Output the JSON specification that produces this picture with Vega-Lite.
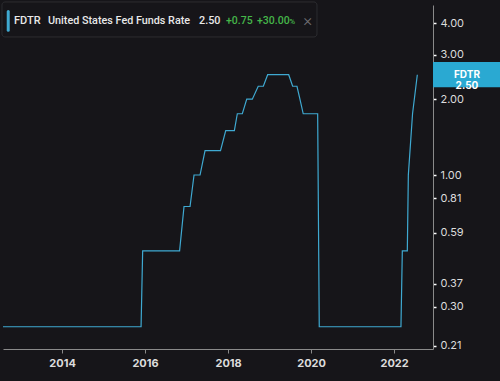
{
  "$schema": "https://vega.github.io/schema/vega-lite/v6.json",
  "width": 430,
  "height": 344,
  "autosize": {"type": "none"},
  "padding": {"left": 3, "top": 5, "right": 67, "bottom": 32},
  "background": "#161519",
  "config": {
    "view": {"stroke": null},
    "font": "Inter",
    "axis": {"grid": false}
  },
  "datasets": {
    "one": [{}],
    "fdtr": [
      {"date": "2012-07-30", "rate": 0.25},
      {"date": "2015-11-27", "rate": 0.25},
      {"date": "2015-12-11", "rate": 0.50},
      {"date": "2016-10-31", "rate": 0.50},
      {"date": "2016-12-09", "rate": 0.75},
      {"date": "2017-01-31", "rate": 0.75},
      {"date": "2017-03-07", "rate": 1.00},
      {"date": "2017-04-29", "rate": 1.00},
      {"date": "2017-06-12", "rate": 1.25},
      {"date": "2017-10-26", "rate": 1.25},
      {"date": "2017-12-11", "rate": 1.50},
      {"date": "2018-02-25", "rate": 1.50},
      {"date": "2018-03-23", "rate": 1.75},
      {"date": "2018-05-06", "rate": 1.75},
      {"date": "2018-06-14", "rate": 2.00},
      {"date": "2018-08-02", "rate": 2.00},
      {"date": "2018-09-23", "rate": 2.25},
      {"date": "2018-11-07", "rate": 2.25},
      {"date": "2018-12-15", "rate": 2.50},
      {"date": "2019-06-18", "rate": 2.50},
      {"date": "2019-07-23", "rate": 2.25},
      {"date": "2019-08-30", "rate": 2.25},
      {"date": "2019-09-25", "rate": 2.00},
      {"date": "2019-10-24", "rate": 1.75},
      {"date": "2020-02-28", "rate": 1.75},
      {"date": "2020-03-13", "rate": 0.25},
      {"date": "2022-03-02", "rate": 0.25},
      {"date": "2022-03-14", "rate": 0.50},
      {"date": "2022-04-27", "rate": 0.50},
      {"date": "2022-05-06", "rate": 1.00},
      {"date": "2022-06-12", "rate": 1.75},
      {"date": "2022-07-24", "rate": 2.50}
    ]
  },
  "layer": [
    {
      "data": {"name": "fdtr"},
      "mark": {"type": "line", "color": "#3fa9d1", "strokeWidth": 1.2, "interpolate": "linear"},
      "encoding": {
        "x": {
          "field": "date", "type": "temporal",
          "scale": {"domain": [{"year": 2012, "month": 7, "date": 30}, {"year": 2022, "month": 12, "date": 9}]},
          "axis": {
            "title": null, "orient": "bottom",
            "values": [{"year": 2014}, {"year": 2016}, {"year": 2018}, {"year": 2020}, {"year": 2022}],
            "format": "%Y",
            "domainColor": "#8a8a8a", "tickColor": "#8a8a8a", "tickSize": 4,
            "labelColor": "#dcdcdc", "labelFontSize": 11, "labelFontWeight": "bold", "labelPadding": 4
          }
        },
        "y": {
          "field": "rate", "type": "quantitative",
          "scale": {"type": "log", "domain": [0.204, 4.727], "nice": false},
          "axis": {
            "title": null, "orient": "right",
            "values": [0.21, 0.30, 0.37, 0.59, 0.81, 1.00, 2.00, 3.00, 4.00],
            "format": ".2f",
            "domainColor": "#8a8a8a", "tickColor": "#ffffff", "tickSize": 3, "tickWidth": 1.5,
            "labelColor": "#dcdcdc", "labelFontSize": 11, "labelPadding": 4
          }
        }
      }
    },
    {
      "data": {"name": "one"},
      "mark": {"type": "rect", "fill": "#161519", "stroke": "#2c2c30", "strokeWidth": 1, "cornerRadius": 3},
      "encoding": {
        "x": {"datum": {"year": 2012, "month": 7, "date": 21}, "type": "temporal"},
        "x2": {"datum": {"year": 2020, "month": 2, "date": 22}},
        "y": {"datum": 4.86, "type": "quantitative"},
        "y2": {"datum": 3.53}
      }
    },
    {
      "data": {"name": "one"},
      "mark": {"type": "rule", "color": "#3fa9d1", "strokeWidth": 3, "strokeCap": "round"},
      "encoding": {
        "x": {"datum": {"year": 2012, "month": 9, "date": 14}, "type": "temporal"},
        "y": {"datum": 4.45, "type": "quantitative"},
        "y2": {"datum": 3.75}
      }
    },
    {
      "data": {"name": "one"},
      "mark": {"type": "text", "text": "FDTR", "align": "left", "baseline": "middle", "font": "Roboto", "fontSize": 11, "fontWeight": 500, "color": "#e8e8e8"},
      "encoding": {
        "x": {"datum": {"year": 2012, "month": 11, "date": 4}, "type": "temporal"},
        "y": {"datum": 4.08, "type": "quantitative"}
      }
    },
    {
      "data": {"name": "one"},
      "mark": {"type": "text", "text": "United States Fed Funds Rate", "align": "left", "baseline": "middle", "font": "Roboto", "fontSize": 10.8, "fontWeight": 500, "color": "#e8e8e8"},
      "encoding": {
        "x": {"datum": {"year": 2013, "month": 8, "date": 30}, "type": "temporal"},
        "y": {"datum": 4.08, "type": "quantitative"}
      }
    },
    {
      "data": {"name": "one"},
      "mark": {"type": "text", "text": "2.50", "align": "left", "baseline": "middle", "font": "Roboto", "fontSize": 10.8, "fontWeight": 500, "color": "#e8e8e8"},
      "encoding": {
        "x": {"datum": {"year": 2017, "month": 4, "date": 20}, "type": "temporal"},
        "y": {"datum": 4.08, "type": "quantitative"}
      }
    },
    {
      "data": {"name": "one"},
      "mark": {"type": "text", "text": "+0.75", "align": "left", "baseline": "middle", "font": "Roboto", "fontSize": 10.5, "fontWeight": 500, "color": "#45b649"},
      "encoding": {
        "x": {"datum": {"year": 2017, "month": 12, "date": 13}, "type": "temporal"},
        "y": {"datum": 4.08, "type": "quantitative"}
      }
    },
    {
      "data": {"name": "one"},
      "mark": {"type": "text", "text": "+30.00", "align": "left", "baseline": "middle", "font": "Roboto", "fontSize": 10.5, "fontWeight": 500, "color": "#45b649"},
      "encoding": {
        "x": {"datum": {"year": 2018, "month": 9, "date": 12}, "type": "temporal"},
        "y": {"datum": 4.08, "type": "quantitative"}
      }
    },
    {
      "data": {"name": "one"},
      "mark": {"type": "text", "text": "%", "align": "left", "baseline": "middle", "font": "Roboto", "fontSize": 8, "fontWeight": 500, "color": "#45b649", "dy": 1},
      "encoding": {
        "x": {"datum": {"year": 2019, "month": 6, "date": 24}, "type": "temporal"},
        "y": {"datum": 4.08, "type": "quantitative"}
      }
    },
    {
      "data": {"name": "one"},
      "mark": {"type": "text", "text": "×", "align": "center", "baseline": "middle", "font": "Roboto", "fontSize": 17, "fontWeight": 300, "color": "#6e6e72"},
      "encoding": {
        "x": {"datum": {"year": 2019, "month": 12, "date": 3}, "type": "temporal"},
        "y": {"datum": 4.08, "type": "quantitative"}
      }
    },
    {
      "data": {"name": "one"},
      "mark": {"type": "rect", "fill": "#2aa9d2"},
      "encoding": {
        "x": {"datum": {"year": 2022, "month": 12, "date": 9}, "type": "temporal"},
        "x2": {"datum": {"year": 2024, "month": 7, "date": 21}},
        "y": {"datum": 2.81, "type": "quantitative"},
        "y2": {"datum": 2.23}
      }
    },
    {
      "data": {"name": "one"},
      "mark": {"type": "text", "text": ["FDTR", "2.50"], "lineHeight": 11, "align": "center", "baseline": "middle", "fontSize": 10, "fontWeight": "bold", "color": "#ffffff"},
      "encoding": {
        "x": {"datum": {"year": 2023, "month": 10, "date": 4}, "type": "temporal"},
        "y": {"datum": 2.50, "type": "quantitative"}
      }
    }
  ]
}
